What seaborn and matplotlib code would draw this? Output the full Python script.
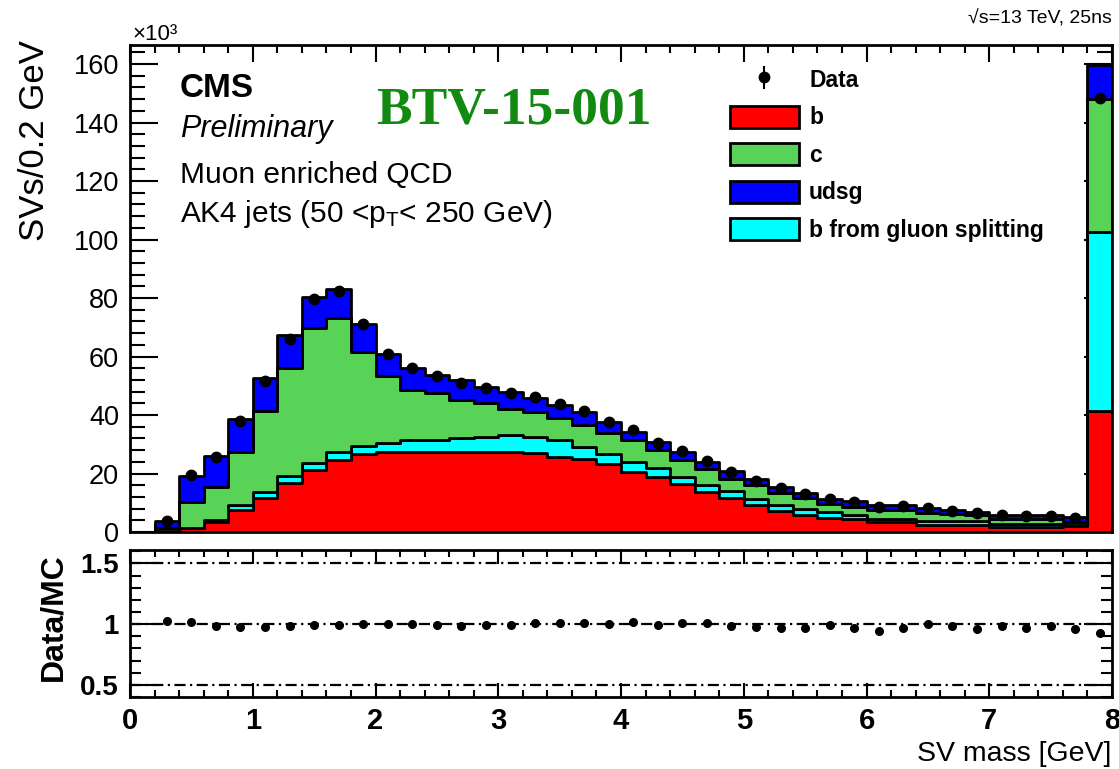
import numpy as np
import pandas as pd
import matplotlib
matplotlib.use("Agg")
import matplotlib.pyplot as plt
import seaborn as sns
from matplotlib.ticker import MultipleLocator, FixedLocator
from matplotlib.patches import Patch

# ---------------- data (counts in units of 10^3 per 0.2 GeV bin) ----------------
bin_edges = [round(0.2 * i, 1) for i in range(41)]
b_jets = [0, 0.3, 1.2, 3.5, 7.5, 11.6, 16.6, 21.1, 24.5, 26.5, 27.4, 27.5, 27.4, 27.4,
          27.4, 27.4, 27.0, 25.7, 24.9, 23.4, 20.5, 18.8, 16.5, 13.8, 11.5, 9.1, 7.1,
          5.9, 4.9, 4.3, 3.4, 3.4, 2.3, 2.3, 2.3, 1.7, 1.7, 1.7, 2.0, 41.3]
b_gluon = [0, 0.0, 0.2, 0.5, 1.9, 2.1, 2.6, 2.6, 2.9, 3.0, 2.9, 3.8, 4.0, 4.8, 5.1,
           5.9, 5.5, 5.7, 4.2, 3.4, 3.5, 3.1, 2.3, 2.3, 2.5, 2.3, 2.3, 1.9, 1.9, 1.4,
           1.2, 1.2, 1.5, 1.4, 1.4, 1.2, 1.2, 1.2, 0.3, 61.4]
c_jets = [0, 1.2, 8.9, 11.4, 17.8, 27.6, 37.0, 45.9, 45.9, 32.1, 23.1, 17.4, 16.0,
          12.9, 11.5, 8.9, 8.6, 7.6, 7.6, 7.2, 7.4, 6.1, 5.7, 5.6, 4.2, 4.6, 4.0, 3.8,
          2.9, 2.9, 3.0, 3.0, 2.8, 2.3, 2.1, 1.7, 1.7, 1.7, 1.1, 45.5]
udsg_jets = [0, 2.3, 8.9, 10.6, 11.6, 11.4, 11.2, 10.9, 9.8, 9.4, 7.3, 7.4, 6.3, 6.8,
             5.7, 5.7, 4.6, 4.4, 4.2, 3.7, 2.8, 2.8, 2.9, 2.4, 2.6, 2.0, 2.0, 1.9, 1.7,
             1.9, 1.5, 1.5, 1.6, 1.4, 1.0, 1.3, 1.1, 1.1, 1.7, 11.4]
data_counts = [0, 3.9, 19.6, 25.7, 38.0, 51.6, 66.1, 79.7, 82.3, 71.0, 60.7, 56.1,
               53.2, 50.9, 49.2, 47.4, 46.2, 43.8, 41.3, 37.7, 34.9, 30.5, 27.7, 24.3,
               20.4, 17.6, 14.9, 13.1, 11.3, 10.2, 8.6, 8.8, 8.2, 7.3, 6.5, 5.8, 5.5,
               5.6, 4.9, 148.4]

flavours = ["b", "b from gluon splitting", "c", "udsg"]
colours = {"b": "#ff0000", "c": "#58d257", "udsg": "#0000ff",
           "b from gluon splitting": "#00ffff"}

# ---------------- style ----------------
sns.set_theme(style="ticks")
SANS = ["Liberation Sans", "DejaVu Sans"]
plt.rcParams["font.family"] = SANS
plt.rcParams["mathtext.fontset"] = "custom"
plt.rcParams["mathtext.rm"] = "Liberation Sans"
plt.rcParams["mathtext.it"] = "Liberation Sans:italic"
for key in ("text.color", "axes.labelcolor", "xtick.color", "ytick.color"):
    plt.rcParams[key] = "black"

W, H = 1119, 769
fig = plt.figure(figsize=(W / 100, H / 100), dpi=100)


def fx(px):
    return px / W


def fy(py):
    return 1 - py / H


ax = fig.add_axes([fx(130), fy(532), fx(1112) - fx(130), fy(45) - fy(532)])
axr = fig.add_axes([fx(130), fy(697), fx(1112) - fx(130), fy(550) - fy(697)])

edges = np.array(bin_edges)
centers = edges[:-1] + 0.1
n = len(centers)
df = pd.DataFrame({
    "mass": np.tile(centers, 4),
    "count": np.concatenate([b_jets, b_gluon, c_jets, udsg_jets]).astype(float),
    "flavour": np.repeat(flavours, n),
})

# seaborn stacks the last hue level at the bottom
sns.histplot(data=df, x="mass", weights="count", hue="flavour",
             hue_order=["udsg", "c", "b from gluon splitting", "b"],
             multiple="stack", bins=bin_edges, element="step", palette=colours,
             edgecolor="black", linewidth=2.0, alpha=1, legend=False, ax=ax)

data_arr = np.array(data_counts, dtype=float)
total = (np.array(b_jets) + np.array(b_gluon) + np.array(c_jets) + np.array(udsg_jets))
mask = data_arr > 0
data_err = np.sqrt(data_arr * 1000.0) / 1000.0

eb = ax.errorbar(centers[mask], data_arr[mask], yerr=data_err[mask], fmt="o",
                 color="black", ms=7.5, elinewidth=1.5, capsize=0, zorder=10, label="Data")

ax.set_xlim(0, 8)
ax.set_ylim(0, 166.5)
ax.set_xlabel("")
ax.set_ylabel("")
ax.xaxis.set_major_locator(MultipleLocator(1))
ax.xaxis.set_minor_locator(MultipleLocator(0.2))
ax.yaxis.set_major_locator(MultipleLocator(20))
ax.yaxis.set_minor_locator(MultipleLocator(4))
ax.tick_params(axis="x", which="both", direction="in", top=True, bottom=True,
               labelbottom=False, width=1.5)
ax.tick_params(axis="x", which="major", length=12)
ax.tick_params(axis="x", which="minor", length=6)
ax.tick_params(axis="y", which="both", direction="in", left=True, right=True, width=1.5,
               labelsize=19.5, pad=8)
ax.tick_params(axis="y", which="major", length=20)
ax.tick_params(axis="y", which="minor", length=11)
for sp in ax.spines.values():
    sp.set_linewidth(2)
    sp.set_color("black")

# legend
handles = [eb,
           Patch(facecolor=colours["b"], edgecolor="black", linewidth=2),
           Patch(facecolor=colours["c"], edgecolor="black", linewidth=2),
           Patch(facecolor=colours["udsg"], edgecolor="black", linewidth=2),
           Patch(facecolor=colours["b from gluon splitting"], edgecolor="black", linewidth=2)]
labels = ["Data", "b", "c", "udsg", "b from gluon splitting"]
leg = ax.legend(handles, labels, loc="upper left",
                bbox_to_anchor=((730 - 130) / 982, (532 - 68) / 487),
                frameon=False, borderpad=0, borderaxespad=0, handlelength=3.0,
                handleheight=1.1, labelspacing=0.6, handletextpad=0.45,
                prop={"family": SANS, "size": 16.5, "weight": "bold"})

# ---------------- ratio panel ----------------
safe_total = np.where(total > 0, total, 1.0)
ratio = np.where(total > 0, data_arr / safe_total, np.nan)
ratio_err = np.where(total > 0, data_err / safe_total, np.nan)
for yv in (0.5, 1.0, 1.5):
    axr.axhline(yv, color="black", lw=1.6, ls=(0, (5, 2, 1, 2)), zorder=1)
axr.errorbar(centers[mask], ratio[mask], yerr=ratio_err[mask], fmt="o", color="black",
             ms=5.5, elinewidth=1.5, capsize=0, zorder=5)
axr.set_xlim(0, 8)
axr.set_ylim(0.4, 1.61)
axr.xaxis.set_major_locator(MultipleLocator(1))
axr.xaxis.set_minor_locator(MultipleLocator(0.2))
axr.yaxis.set_major_locator(FixedLocator([0.5, 1.0, 1.5]))
axr.yaxis.set_minor_locator(MultipleLocator(0.1))
axr.set_yticklabels(["0.5", "1", "1.5"])
axr.tick_params(axis="x", which="both", direction="in", top=True, bottom=True, width=1.5,
                labelsize=21, pad=7)
axr.tick_params(axis="x", which="major", length=10)
axr.tick_params(axis="x", which="minor", length=5)
axr.tick_params(axis="y", which="both", direction="in", left=True, right=True, width=1.5,
                labelsize=20, pad=8)
axr.tick_params(axis="y", which="major", length=20)
axr.tick_params(axis="y", which="minor", length=8)
for lab in axr.get_xticklabels() + axr.get_yticklabels():
    lab.set_fontweight("bold")
for sp in axr.spines.values():
    sp.set_linewidth(2)
    sp.set_color("black")

# ---------------- texts ----------------
fig.text(fx(35), fy(40), "SVs/0.2 GeV", rotation=90, ha="center", va="top",
         fontsize=25)
fig.text(fx(53), fy(617), "Data/MC", rotation=90, ha="center", va="center",
         fontsize=23, fontweight="bold")
fig.text(fx(1111), fy(761), "SV mass [GeV]", ha="right", va="baseline", fontsize=20.5)
fig.text(fx(132), fy(40), "×10³", ha="left", va="baseline", fontsize=16)
fig.text(fx(1112), fy(24), "√s=13 TeV, 25ns", ha="right", va="baseline", fontsize=14)
fig.text(fx(180), fy(97), "CMS", ha="left", va="baseline", fontsize=24, fontweight="bold")
fig.text(fx(180), fy(137), "Preliminary", ha="left", va="baseline", fontsize=22,
         style="italic")
fig.text(fx(180), fy(183), "Muon enriched QCD", ha="left", va="baseline", fontsize=21.5)
fig.text(fx(180), fy(222), r"AK4 jets (50 <p$_\mathrm{T}$< 250 GeV)", ha="left",
         va="baseline", fontsize=21.5)
fig.text(fx(376), fy(124), "BTV-15-001", ha="left", va="baseline", fontsize=38.5,
         fontweight="bold", family=["Liberation Serif", "DejaVu Serif"], color="#128a12")

fig.savefig("out.png", dpi=100)
